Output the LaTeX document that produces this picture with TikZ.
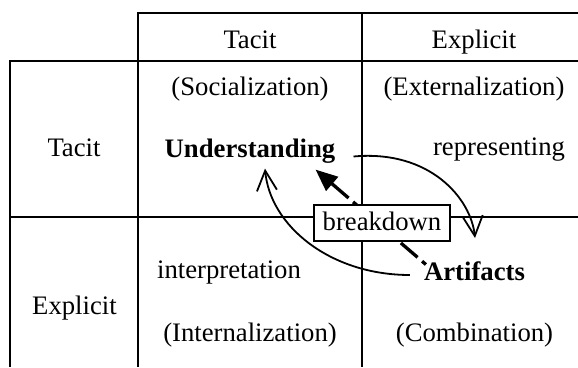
\documentclass[tikz,border=0pt]{standalone}
\usepackage{fontspec}
\setmainfont{Liberation Serif}
\usetikzlibrary{arrows.meta,calc}
\begin{document}
\begin{tikzpicture}[x=1pt,y=-1pt,
  grid/.style={line width=2pt},
  lbl/.style={inner sep=0pt, anchor=base, font=\fontsize{26.7}{32}\selectfont},
  key/.style={lbl, font=\fontsize{26.7}{32}\selectfont\bfseries},
  flow/.style={line width=1.8pt, -{Straight Barb[length=20pt,width=20pt]}},
  brk/.style={line width=3.3pt, dash pattern=on 5pt off 6pt on 22pt off 12.5pt,
              -{Triangle[length=22pt,width=18pt]}},
  tag/.style={draw, line width=2pt, fill=white, minimum width=136pt,
              minimum height=36pt, inner sep=0pt, text depth=4pt,
              font=\fontsize{26.7}{32}\selectfont}]
\useasboundingbox (0,0) rectangle (578,367);

% matrix grid
\draw[grid] (578,12.7) -- (137.7,12.7) -- (137.7,367);
\draw[grid] (361.7,12.7) -- (361.7,367);
\draw[grid] (578,60.7) -- (10,60.7) -- (10,367);
\draw[grid] (10,216.7) -- (578,216.7);

% headers
\node[lbl] (hTacit)    at (250,48)  {Tacit};
\node[lbl] (hExplicit) at (474,48)  {Explicit};
\node[lbl] (rTacit)    at (74,156)  {Tacit};
\node[lbl] (rExplicit) at (74.5,314) {Explicit};

% quadrant names
\node[lbl] (soc)    at (250,95)    {(Socialization)};
\node[lbl] (ext)    at (474,95)    {(Externalization)};
\node[lbl] (intern) at (250,341)   {(Internalization)};
\node[lbl] (comb)   at (474.5,341) {(Combination)};

% key concepts and transitions
\node[key] (und)    at (250,157)   {Understanding};
\node[key] (art)    at (474.5,280) {Artifacts};
\node[lbl] (repr)   at (499,155)   {representing};
\node[lbl] (interp) at (229,278)   {interpretation};

\draw[flow] ($(und.base east)+(18,-0.5)$)
  .. controls +(77,-7) and +(-4,-39) .. ($(art.north)+(0.5,-23)$);
\draw[flow] ($(art.base west)+(-14,-5)$)
  .. controls +(-80,0) and +(5,57) .. ($(und.south)+(15,5.5)$);
\draw[brk] ($(art.north west)+(2,3.5)$) -- ($(und.south east)+(-20,6.5)$);

\node[tag] (brkdn) at (382,223) {breakdown};
\end{tikzpicture}
\end{document}
